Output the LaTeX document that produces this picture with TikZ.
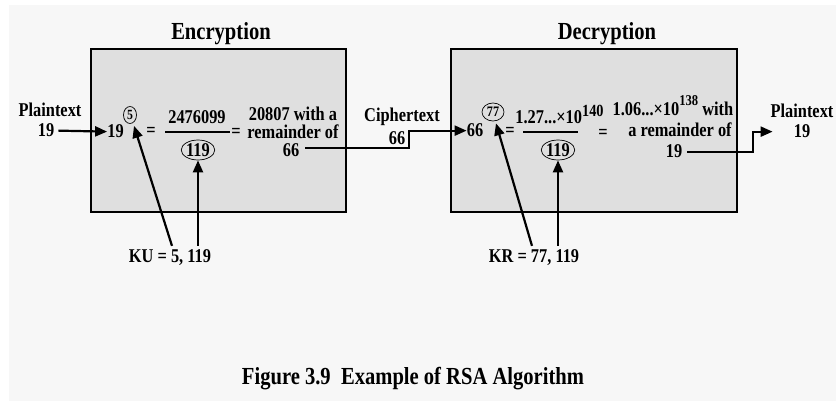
\documentclass[tikz,border=0pt]{standalone}
\usepackage{fontspec}
\setmainfont{Liberation Serif}[FakeStretch=0.84]
\usetikzlibrary{arrows.meta,shapes.geometric}
\definecolor{pagebg}{HTML}{F7F7F7}
\definecolor{boxfill}{HTML}{DFDFDF}
\tikzset{
  txt/.style={font=\fontsize{19.5}{19.5}\selectfont\bfseries, inner sep=0pt, anchor=base},
  heading/.style={font=\fontsize{24.5}{24.5}\selectfont\bfseries, inner sep=0pt, anchor=base},
  stage/.style={draw, line width=2.6pt, fill=boxfill, inner sep=0pt},
  keyring/.style={draw, ellipse, line width=0.7pt, inner sep=0pt,
    font=\fontsize{19.5}{19.5}\selectfont\bfseries},
  arr/.style={line width=2.2pt, -{Triangle[length=12pt,width=10pt]}},
  bar/.style={line width=2pt}
}
\begin{document}
\begin{tikzpicture}[x=1pt,y=-1pt]
\useasboundingbox (0,0) rectangle (836,401);
\fill[white] (0,0) rectangle (836,401);
\fill[pagebg] (9,5) rectangle (836,401);

% stage boxes and their headings
\node[stage, minimum width=255pt, minimum height=163pt] (encbox) at (218.5,130.5) {};
\node[stage, minimum width=286pt, minimum height=163pt] (decbox) at (594,130.5) {};
\node[heading] (enct) at (221,40) {Encryption};
\node[heading] (dect) at (607,40) {Decryption};

% encryption: 19^5 mod 119
\node[txt] (ptinA) at (50,117) {Plaintext};
\node[txt] (ptinB) at (46,137) {19};
\node[txt] (b19) at (115.5,138) {19};
\node[keyring, minimum width=13pt, minimum height=17pt,
  font=\fontsize{14}{14}\selectfont\bfseries] (c5) at (130,115) {5};
\node[txt] (eq1) at (151,137) {=};
\node[txt] (num1) at (197,124) {2476099};
\draw[bar] (165,132) -- (230,132);
\node[keyring, minimum width=32pt, minimum height=20pt] (c119a) at (198,150) {119};
\node[txt] (eq2) at (236,138) {=};
\node[txt] (res1a) at (293,121) {20807 with a};
\node[txt] (res1b) at (293,139) {remainder of};
\node[txt] (r66) at (291,157) {66};
\node[txt] (ku) at (170,262) {KU = 5, 119};

% ciphertext between the stages
\node[txt] (ctA) at (402,122) {Ciphertext};
\node[txt] (ctB) at (397,145) {66};

% decryption: 66^77 mod 119
\node[txt] (d66) at (475,137) {66};
\node[keyring, minimum width=22pt, minimum height=18pt,
  font=\fontsize{14.5}{14.5}\selectfont\bfseries] (c77) at (493,112) {77};
\node[txt] (eq3) at (510,137) {=};
\node[txt] (num2) at (559.5,124) {1.27...×10\raisebox{7pt}{\fontsize{17}{17}\selectfont 140}};
\draw[bar] (523,132) -- (578,132);
\node[keyring, minimum width=32pt, minimum height=20pt] (c119b) at (558,150) {119};
\node[txt] (eq4) at (603,139) {=};
\node[txt] (res2a) at (673,116) {1.06...×10\raisebox{10pt}{\fontsize{15}{15}\selectfont 138} with};
\node[txt] (res2b) at (680,137) {a remainder of};
\node[txt] (d19) at (674,158) {19};
\node[txt] (kr) at (534,262) {KR = 77, 119};

% recovered plaintext
\node[txt] (ptoA) at (802,118) {Plaintext};
\node[txt] (ptoB) at (802,138) {19};

% connectors
\coordinate (bend1) at (409,0);
\coordinate (bend2) at (753,0);
\draw[arr] ([xshift=4pt]ptinB.east) -- (b19.west);
\draw[arr] ([shift={(6,-3)}]r66.east) -| (bend1 |- d66.west) -- (d66.west);
\draw[arr] ([xshift=5pt]d19.east) -| (bend2 |- ptoB.west) -- ([xshift=-21pt]ptoB.west);

% key arrows
\draw[arr] ([shift={(2,-3)}]ku.north) -- ([shift={(4,2)}]c5.south);
\draw[arr] ([yshift=3pt]ku.north -| c119a.south) -- (c119a.south);
\draw[arr] ([shift={(-2,-3)}]kr.north) -- ([shift={(3,2)}]c77.south);
\draw[arr] ([yshift=3pt]kr.north -| c119b.south) -- (c119b.south);

% caption
\node[heading] (cap) at (413,384) {Figure 3.9\ \ Example of RSA Algorithm};
\end{tikzpicture}
\end{document}
